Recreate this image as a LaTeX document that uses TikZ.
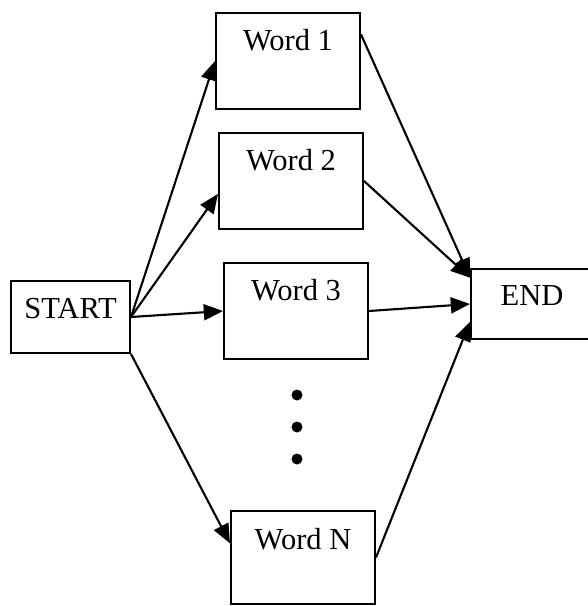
\documentclass[tikz,border=0pt]{standalone}
\usepackage{fontspec}
\setmainfont{Liberation Serif}
\usepackage{tikz}
\usetikzlibrary{arrows.meta}

\begin{document}
\begin{tikzpicture}[x=0.025cm,y=-0.025cm,
    box/.style={draw,line width=1.4pt,inner sep=0pt,anchor=north west,
      font=\fontsize{21.7}{26}\selectfont},
    wordbox/.style={box,minimum width=3.6cm,text height=0.95cm,text depth=1.45cm},
    link/.style={line width=1.5pt,-{Triangle[length=0.48cm,width=0.4cm]}}]
  % Boundary
  \useasboundingbox (0,0) rectangle (587,606);
  % Boxes
  \node[box,minimum width=2.975cm,text height=0.95cm,text depth=0.85cm] (start) at (10,280) {START};
  \node[wordbox] (w1) at (215,12) {Word 1};
  \node[wordbox] (w2) at (218,132) {Word 2};
  \node[wordbox] (w3) at (223,262) {Word 3};
  \node[wordbox,text depth=1.375cm] (wn) at (230,510) {Word N};
  \node[box,minimum width=3.05cm,text height=0.925cm,text depth=0.825cm] (stop) at (470,268) {END};
  % Dots
  \foreach \y in {395,427,459}
    \fill (297,\y) circle (5.5);
  % Arrows
  \draw[link] (start.east) -- (w1.west);
  \draw[link] (start.east) -- (w2.190);
  \draw[link] (start.east) -- (w3.west);
  \draw[link] (start.south east) -- (wn.169);
  \draw[link] (w1.20) -- (stop.157);
  \draw[link] (w2.east) -- (stop.157);
  \draw[link] (w3.east) -- (stop.west);
  \draw[link] (wn.east) -- (stop.196);
\end{tikzpicture}
\end{document}
